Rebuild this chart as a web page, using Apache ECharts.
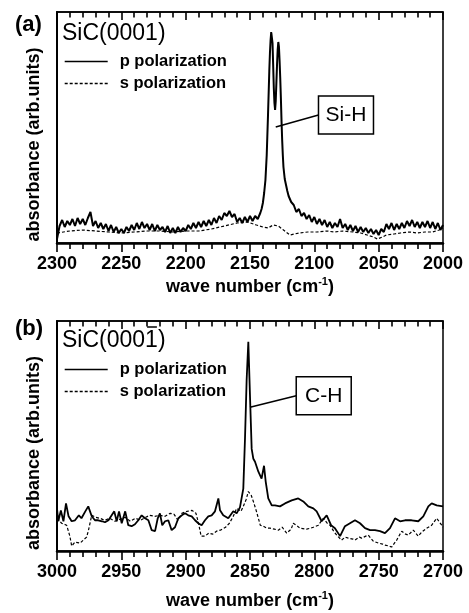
<!DOCTYPE html>
<html>
<head>
<meta charset="utf-8">
<script src="https://cdn.jsdelivr.net/npm/echarts@6/dist/echarts.min.js"></script>
<style>
  html, body { margin: 0; padding: 0; background: #fff; }
  #chart { width: 469px; height: 613px; }
</style>
</head>
<body>
<div id="chart"></div>
<script>
// (a) SiC(0001): Si-H stretch region, [wave number, absorbance (arb. units)]
const topP = [
  [2300,4],[2298,17],[2296,23],[2294,16],[2292,22],[2290,18],[2288,24],[2286,17],[2284,25],[2282,19],
  [2280,24],[2278,18],[2276,25],[2274,31],[2272,17],[2270,22],[2268,15],[2266,20],[2264,14],[2262,19],
  [2260,12],[2258,18],[2256,11],[2254,16],[2252,10],[2250,14],[2248,10],[2246,16],[2244,12],[2242,18],
  [2240,13],[2238,20],[2236,14],[2234,21],[2232,15],[2230,19],[2228,13],[2226,19],[2224,12],[2222,18],
  [2220,13],[2218,16],[2216,11],[2214,17],[2212,10],[2210,15],[2208,10],[2206,16],[2204,11],[2202,15],
  [2200,12],[2198,18],[2196,14],[2194,20],[2192,15],[2190,21],[2188,16],[2186,22],[2184,17],[2182,23],
  [2180,18],[2178,25],[2176,20],[2174,27],[2172,23],[2170,30],[2168,27],[2166,32],[2164,26],[2162,29],
  [2160,21],[2158,25],[2156,20],[2154,26],[2152,21],[2150,27],[2148,22],[2146,27],[2144,24],[2142,30],
  [2141,34],[2140,40],[2139,50],[2138,63],[2137,88],[2136,128],[2135.5,150],[2135,172],[2134.5,190],[2134,203],
  [2133.5,211],[2133,213],[2132.5,200],[2132,178],[2131.5,155],[2131,140],[2130.5,133],[2130,142],[2129.5,160],[2129,178],
  [2128.5,193],[2128,201],[2127.5,196],[2127,182],[2126.5,165],[2126,145],[2125.5,122],[2125,103],[2124.5,88],[2124,76],
  [2123,64],[2122,58],[2121,52],[2120,47],[2119,44],[2118,41],
  [2116,38],[2114,31],[2112,34],[2110,27],[2108,30],[2106,24],[2104,28],[2102,21],[2100,26],[2098,19],
  [2096,24],[2094,18],[2092,23],[2090,16],[2088,21],[2086,15],[2084,20],[2082,16],[2080,24],[2078,15],
  [2076,19],[2074,13],[2072,18],[2070,12],[2068,17],[2066,11],[2064,16],[2062,11],[2060,15],[2058,10],
  [2056,14],[2054,9],[2052,13],[2050,8],[2048,14],[2046,11],[2044,19],[2042,14],[2040,20],[2038,13],
  [2036,19],[2034,14],[2032,20],[2030,15],[2028,22],[2026,17],[2024,23],[2022,16],[2020,21],[2018,15],
  [2016,21],[2014,16],[2012,22],[2010,15],[2008,21],[2006,14],[2004,20],[2002,13],[2000,18]
];
const topS = [
  [2300,10],[2290,12],[2280,13],[2270,12],[2260,11],[2250,10],[2240,11],[2230,12],[2220,12],[2210,11],
  [2200,12],[2190,12],[2180,14],[2170,17],[2160,20],[2152,21],[2145,18],[2140,16],[2136,15],[2132,18],
  [2128,17],[2124,13],[2119,8],[2112,10],[2105,11],[2098,11],[2090,12],[2085,11],[2078,12],[2070,11],
  [2064,10],[2059,8],[2054,6],[2051,4],[2047,6],[2044,8],[2038,9],[2033,10],[2026,11],[2020,10],
  [2014,11],[2008,11],[2003,13],[2000,15]
];

// (b) SiC(000-1): C-H stretch region
const botP = [
  [3000,43],[2999,30],[2997,41],[2995,30],[2993,48],[2991,35],[2988.6,30],[2986,31],[2983,36],[2981,33],
  [2978,40],[2975.7,45],[2973,35],[2970.5,31],[2968,31],[2965,30],[2962.7,29],[2960,31],[2957.5,36],[2955.5,40],
  [2953.6,30],[2951.8,40],[2949.7,28],[2947,40],[2944.6,26],[2942,25],[2939.4,27],[2936.8,31],[2934.2,36],[2931.6,33],
  [2929,31],[2926.4,21],[2923.8,20],[2921.7,33],[2920,38],[2918.2,26],[2916,30],[2913.5,31],[2910.9,21],[2908.3,24],
  [2905.7,33],[2903,36],[2900.5,38],[2898,36],[2895.3,35],[2892.7,31],[2890.2,28],[2887.6,26],[2885,31],[2882.4,35],
  [2879.8,36],[2877.2,40],[2874.6,53],[2873.3,41],[2870.8,36],[2866.9,33],[2863,40],[2860.4,38],[2857.8,44],[2855.2,63],
  [2853.9,113],[2852.6,173],[2851.3,211],[2850,156],[2848.7,103],[2847.4,93],[2846.1,90],[2843.5,80],[2841,73],[2839.1,86],
  [2837.8,70],[2835.8,53],[2833.1,46],[2830.6,46],[2826.7,45],[2822.8,48],[2817.6,51],[2812.5,53],[2808.6,50],[2804.7,45],
  [2800.8,43],[2798.2,40],[2794.3,30],[2790.4,36],[2787,26],[2784,23],[2780,15],[2776.2,25],[2772.3,28],[2768.4,31],
  [2764.5,28],[2760.6,23],[2756.7,21],[2752.9,21],[2749,20],[2745.1,18],[2741.2,23],[2737.3,33],[2733.4,30],[2729.5,31],
  [2724.4,31],[2719.2,30],[2715.3,35],[2711.4,45],[2708.8,48],[2704.9,46],[2700,45]
];
const botS = [
  [3000,33],[2996.4,28],[2992.5,26],[2990,15],[2988.6,5],[2986,9],[2984.7,10],[2982,8],[2979.5,11],[2977,14],
  [2975.7,20],[2973,36],[2970,34],[2966.6,33],[2963,31],[2959,33],[2955,30],[2951,32],[2947,34],[2943,30],
  [2939,33],[2935,31],[2931,34],[2928,36],[2924,35],[2920,36],[2916,35],[2912,38],[2909,37],[2906,31],
  [2903,38],[2899,40],[2895,41],[2892,38],[2890,28],[2888,15],[2885,15],[2882,18],[2879,17],[2876,20],
  [2873,21],[2869,24],[2866,28],[2863,35],[2860.4,43],[2857,40],[2855.2,45],[2853,52],[2851.3,60],[2849,56],
  [2847.4,50],[2845,40],[2843.5,33],[2842,26],[2839.7,25],[2837,23],[2834.5,23],[2831,22],[2828,21],[2825,24],
  [2821.5,18],[2818,22],[2816.4,28],[2813,25],[2811.2,23],[2806,22],[2803,23],[2800.8,24],[2796.9,26],[2793,33],
  [2790,28],[2787.8,26],[2785,20],[2782.6,16],[2778.8,11],[2776,14],[2773.6,13],[2770,12],[2768.4,11],[2765,14],
  [2763.2,13],[2760,15],[2758.1,16],[2754.2,10],[2750.3,8],[2747,7],[2745.1,6],[2742,5],[2739.9,4],[2736,11],
  [2732.1,20],[2729,17],[2727,16],[2723.1,21],[2719.2,15],[2716.6,19],[2712.7,23],[2708.8,26],[2704.9,33],[2701,26],
  [2700,24]
];

const panelLetters = ['(a)', '(b)'];
const surfaces = ['SiC(0001)', 'SiC(0001)'];
const seriesNames = ['p polarization', 's polarization'];
const xRanges = [[2000, 2300], [2700, 3000]];
const yMax = [231, 232];
// peak labels: text, point on the peak, centre of the label box (data units)
const peakLabels = [
  { text: 'Si-H', panel: 0, from: [2130, 116], box: [2075.4, 128] },
  { text: 'C-H', panel: 1, from: [2850, 145], box: [2792.7, 156.5] }
];

const FONT = 'Liberation Sans, Arial, Helvetica, sans-serif';
const chart = echarts.init(document.getElementById('chart'), null, { renderer: 'canvas' });

const grids = [
  { left: 57, right: 26, top: 12, height: 231 },
  { left: 57, right: 26, top: 321, height: 232 }
].map(g => Object.assign(g, { show: true, borderColor: '#000', borderWidth: 1.5, containLabel: false }));

const xAxes = [];
xRanges.forEach((r, i) => {
  xAxes.push({
    type: 'value', gridIndex: i, position: 'bottom', min: r[0], max: r[1], interval: 50, inverse: true,
    axisLine: { show: true, onZero: false, lineStyle: { color: '#000', width: 2.5 } },
    axisTick: { show: true, inside: false, length: 9, lineStyle: { color: '#000', width: 1.6 } },
    minorTick: { show: true, splitNumber: 5, length: 6, lineStyle: { color: '#000', width: 1.6 } },
    splitLine: { show: false },
    axisLabel: { show: true, margin: 12, color: '#000', fontFamily: FONT, fontWeight: 'bold', fontSize: 18,
      formatter: v => String(v) },
    name: 'wave number (cm{sup|-1})', nameLocation: 'middle', nameGap: i === 0 ? 33 : 39,
    nameTextStyle: {
      color: '#000', fontFamily: FONT, fontWeight: 'bold', fontSize: 18, lineHeight: 22,
      rich: { sup: { fontFamily: FONT, fontWeight: 'bold', fontSize: 11, lineHeight: 12, verticalAlign: 'top', color: '#000' } }
    }
  });
  xAxes.push({
    type: 'value', gridIndex: i, position: 'top', min: r[0], max: r[1], interval: 50, inverse: true,
    axisLine: { show: true, onZero: false, lineStyle: { color: '#000', width: 1.5 } },
    axisTick: { show: true, inside: true, length: 8, lineStyle: { color: '#000', width: 1.6 } },
    minorTick: { show: true, splitNumber: 5, length: 5.5, lineStyle: { color: '#000', width: 1.6 } },
    splitLine: { show: false },
    axisLabel: { show: false }
  });
});

const yAxes = yMax.map((m, i) => ({
  type: 'value', gridIndex: i, min: 0, max: m,
  axisLine: { show: true, onZero: false, lineStyle: { color: '#000', width: 2 } },
  axisTick: { show: false }, axisLabel: { show: false }, splitLine: { show: false },
  name: 'absorbance (arb.units)', nameLocation: 'middle', nameGap: 14,
  nameTextStyle: { color: '#000', fontFamily: FONT, fontWeight: 'bold', fontSize: 18, padding: [0, 34, 0, 0] }
}));

function lineSeries(name, data, xi, yi, dashed, width) {
  return {
    type: 'line', name, data, xAxisIndex: xi, yAxisIndex: yi,
    symbol: 'none', smooth: false, animation: false, silent: true,
    itemStyle: { color: '#000' },
    lineStyle: { color: '#000', width, type: dashed ? [3, 2] : 'solid' }
  };
}

const series = [
  lineSeries(seriesNames[0], topP, 0, 0, false, 2),
  lineSeries(seriesNames[1], topS, 0, 0, true, 1.2),
  lineSeries(seriesNames[0], botP, 2, 1, false, 1.8),
  lineSeries(seriesNames[1], botS, 2, 1, true, 1.2)
];

const legendTops = [53, 361];
const legends = legendTops.map(t => ({
  orient: 'vertical', left: 64, top: t, itemWidth: 43, itemHeight: 14, itemGap: 5,
  padding: 0, selectedMode: false, data: seriesNames,
  itemStyle: { color: 'rgba(0,0,0,0)', borderColor: 'rgba(0,0,0,0)', borderWidth: 0, opacity: 0 },
  lineStyle: { width: 1.4 },
  textStyle: { color: '#000', fontFamily: FONT, fontWeight: 'bold', fontSize: 16.5, padding: [0, 0, 0, 7] }
}));

const titles = surfaces.map((s, i) => ({
  text: s, left: 62, top: i === 0 ? 22 : 329, padding: 0,
  textStyle: { color: '#000', fontFamily: FONT, fontWeight: 'normal', fontSize: 23 }
}));

chart.setOption({
  animation: false,
  backgroundColor: '#fff',
  title: titles,
  legend: legends,
  grid: grids,
  xAxis: xAxes,
  yAxis: yAxes,
  series
});

// panel letters, the bar over the last index of (000-1), and the boxed peak labels
function decorations() {
  const els = [];
  panelLetters.forEach((t, i) => {
    els.push({
      type: 'text', left: 15, top: i === 0 ? 14 : 318,
      style: { text: t, fill: '#000', font: 'bold 22px ' + FONT }
    });
  });
  const ctx = document.createElement('canvas').getContext('2d');
  ctx.font = 'normal 23px ' + FONT;
  const x0 = 62 + ctx.measureText('SiC(000').width;
  const x1 = 62 + ctx.measureText('SiC(0001').width;
  els.push({ type: 'line', shape: { x1: x0 + 2, y1: 327, x2: x1 - 1, y2: 327 }, style: { stroke: '#000', lineWidth: 1.5 } });

  peakLabels.forEach(p => {
    const sIdx = p.panel === 0 ? 0 : 2;
    const a = chart.convertToPixel({ seriesIndex: sIdx }, p.from);
    const c = chart.convertToPixel({ seriesIndex: sIdx }, p.box);
    const w = 55, h = 38;
    els.push({ type: 'line', shape: { x1: a[0], y1: a[1], x2: c[0] - w / 2, y2: c[1] }, style: { stroke: '#000', lineWidth: 1.5 } });
    els.push({ type: 'rect', shape: { x: c[0] - w / 2, y: c[1] - h / 2, width: w, height: h }, style: { fill: '#fff', stroke: '#000', lineWidth: 1.5 } });
    els.push({
      type: 'text', x: c[0], y: c[1],
      style: { text: p.text, fill: '#000', font: 'normal 21px ' + FONT, align: 'center', verticalAlign: 'middle' }
    });
  });
  chart.setOption({ graphic: els });
}
decorations();
</script>
</body>
</html>
